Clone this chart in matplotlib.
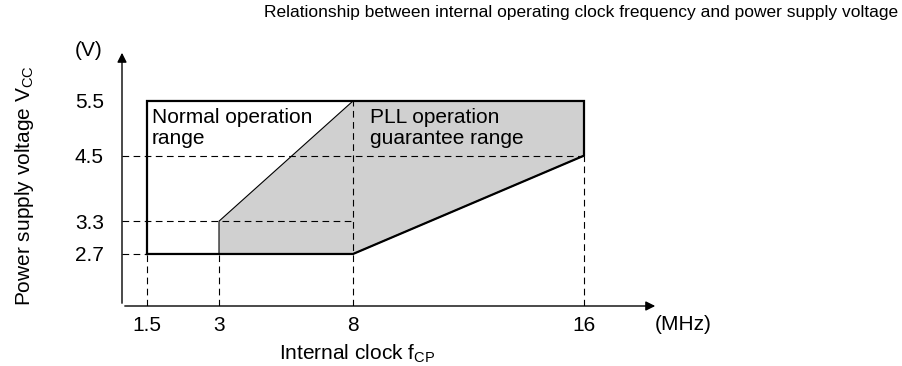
import numpy as np
import matplotlib
matplotlib.use("Agg")
import matplotlib.pyplot as plt
from matplotlib.patches import Polygon

plt.rcParams['font.family'] = ['Liberation Sans', 'DejaVu Sans']

# data (MHz, V)
freq_ticks = [1.5, 3, 8, 16]
volt_ticks = [2.7, 3.3, 4.5, 5.5]

# normal operation outline (thick)
normal_f = [1.5, 1.5, 16, 16, 8, 1.5]
normal_v = [2.7, 5.5, 5.5, 4.5, 2.7, 2.7]

# PLL operation guarantee region (shaded)
pll_f = [3, 3, 8, 16, 16, 8]
pll_v = [2.7, 3.3, 5.5, 5.5, 4.5, 2.7]

# guide lines: (freq, volt) where dashed lines meet axes
hguides = [(16, 4.5), (8, 3.3), (1.5, 2.7)]
vguides = [(1.5, 2.7), (3, 2.7), (8, 5.5), (16, 4.5)]

# piecewise x scale (frequency -> drawing position), taken from the diagram layout
knot_f = [1.0, 1.5, 3, 8, 16, 18.56]
knot_p = [0, 25, 97, 231, 462, 536]


def fwd(f):
    return np.interp(f, knot_f, knot_p)


def inv(p):
    return np.interp(p, knot_p, knot_f)


W, H = 903, 366
fig = plt.figure(figsize=(W / 100, H / 100), dpi=100)
ax = fig.add_axes([122 / W, 60 / H, 536 / W, 256 / H])
ax.set_xscale('function', functions=(fwd, inv))
ax.set_xlim(knot_f[0], knot_f[-1])
ax.set_ylim(1.748, 6.433)
for s in ax.spines.values():
    s.set_visible(False)

grey = '#d0d0d0'
ax.add_patch(Polygon(list(zip(pll_f, pll_v)), closed=True, facecolor=grey,
                     edgecolor='black', linewidth=0.8, zorder=1))

dash = (0, (6, 4))
for f, v in hguides:
    ax.plot([knot_f[0], f], [v, v], color='black', lw=0.8, linestyle=dash, zorder=2)
for f, v in vguides:
    ax.plot([f, f], [ax.get_ylim()[0], v], color='black', lw=0.8, linestyle=dash, zorder=2)

ax.plot(normal_f, normal_v, color='black', lw=1.6, solid_joinstyle='miter', zorder=3)

# axes with arrows
ax.annotate('', xy=(1, 0), xytext=(0, 0), xycoords='axes fraction',
            arrowprops=dict(arrowstyle='-|>', color='black', lw=1, mutation_scale=14))
ax.annotate('', xy=(0, 1), xytext=(0, 0), xycoords='axes fraction',
            arrowprops=dict(arrowstyle='-|>', color='black', lw=1, mutation_scale=14))

fs = 15
ax.set_xticks(freq_ticks)
ax.set_xticklabels([f'{t:g}' for t in freq_ticks], fontsize=fs)
ax.set_yticks(volt_ticks)
ax.set_yticklabels([f'{t:g}' for t in volt_ticks], fontsize=fs)
ax.tick_params(length=0)
ax.tick_params(axis='x', pad=7)
ax.tick_params(axis='y', pad=13)
ax.xaxis.set_minor_locator(plt.NullLocator())

ax.text(1.6, 5.38, 'Normal operation\nrange', fontsize=fs, va='top', ha='left', linespacing=1.15)
ax.text(8.6, 5.38, 'PLL operation\nguarantee range', fontsize=fs, va='top', ha='left', linespacing=1.15)

fig.text(103 / W, 1 - 51 / H, '(V)', fontsize=fs, ha='right', va='center')
fig.text(655 / W, 1 - 324 / H, '(MHz)', fontsize=fs, ha='left', va='center')
fig.text(357 / W, 1 - 354 / H, r'Internal clock f$_{\mathregular{CP}}$', fontsize=fs,
         ha='center', va='center')
fig.text(25 / W, 1 - 186 / H, r'Power supply voltage V$_{\mathregular{CC}}$', fontsize=fs,
         ha='center', va='center', rotation=90)
fig.text(898 / W, 1 - 13 / H,
         'Relationship between internal operating clock frequency and power supply voltage',
         fontsize=12.5, ha='right', va='center')

fig.savefig('out.png', dpi=100)
